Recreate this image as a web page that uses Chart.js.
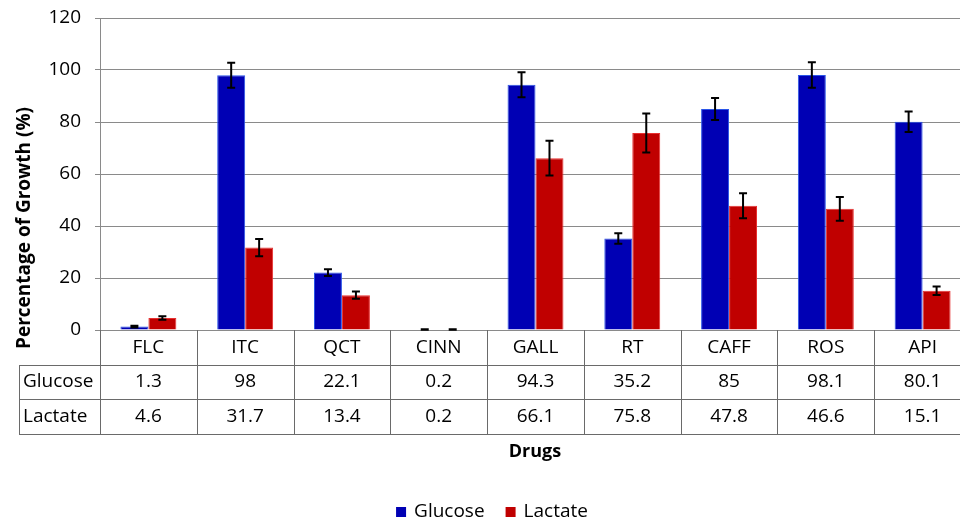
<!DOCTYPE html>
<html><head><meta charset="utf-8">
<script src="https://cdn.jsdelivr.net/npm/chart.js@4.4.0/dist/chart.umd.min.js"></script>
<style>
html,body{margin:0;padding:0;overflow:hidden;background:#fff;width:960px;height:522px}
#wrap{width:972px;height:522px;position:relative}
canvas{display:block}
</style>
</head><body><div id="wrap"><canvas id="c" width="972" height="522"></canvas></div>
<script>
const categories = ['FLC','ITC','QCT','CINN','GALL','RT','CAFF','ROS','API'];
const glucose = [1.3, 98, 22.1, 0.2, 94.3, 35.2, 85, 98.1, 80.1];
const lactate = [4.6, 31.7, 13.4, 0.2, 66.1, 75.8, 47.8, 46.6, 15.1];
const glucoseErr = [0.3, 4.8, 1.3, 0.1, 4.8, 2.0, 4.2, 4.9, 3.9];
const lactateErr = [0.7, 3.3, 1.4, 0.1, 6.7, 7.5, 4.8, 4.6, 1.6];
const seriesNames = ['Glucose', 'Lactate'];
const yMin = 0, yMax = 120, yStep = 20;
const yTitle = 'Percentage of Growth (%)';
const xTitle = 'Drugs';

const FONT = "'Open Sans', sans-serif";
const BLUE = '#0000B4', RED = '#C00000';
const LINE = '#6a6a6a';

const extras = {
  id: 'extras',
  afterDatasetsDraw(chart) {
    const ctx = chart.ctx;
    const ys = chart.scales.y;
    const errs = [glucoseErr, lactateErr];
    const vals = [glucose, lactate];
    ctx.save();
    ctx.strokeStyle = '#000';
    ctx.lineWidth = 2;
    chart.data.datasets.forEach((ds, d) => {
      const meta = chart.getDatasetMeta(d);
      meta.data.forEach((bar, i) => {
        const v = vals[d][i], e = errs[d][i];
        const yt = ys.getPixelForValue(v + e), yb = ys.getPixelForValue(v - e);
        const x = bar.x;
        ctx.beginPath();
        ctx.moveTo(x, yt); ctx.lineTo(x, yb);
        ctx.moveTo(x - 4, yt); ctx.lineTo(x + 4, yt);
        ctx.moveTo(x - 4, yb); ctx.lineTo(x + 4, yb);
        ctx.stroke();
      });
    });
    ctx.restore();
  },
  afterDraw(chart) {
    const ctx = chart.ctx;
    const xs = chart.scales.x;
    const area = chart.chartArea;
    const n = categories.length;
    const cw = (area.right - area.left) / n;
    const top = area.bottom;
    const rowH = 34.7;
    const r1 = top + rowH, r2 = top + 2 * rowH, r3 = top + 3 * rowH;
    const labelLeft = 19;
    ctx.save();
    ctx.strokeStyle = LINE;
    ctx.lineWidth = 1;
    ctx.beginPath();
    for (let i = 0; i <= n; i++) {
      const x = Math.round(area.left + i * cw) + 0.5;
      ctx.moveTo(x, top); ctx.lineTo(x, r3);
    }
    [r1, r2, r3].forEach(y => { const yy = Math.round(y) + 0.5; ctx.moveTo(labelLeft, yy); ctx.lineTo(area.right + 2, yy); });
    ctx.moveTo(labelLeft + 0.5, Math.round(r1)); ctx.lineTo(labelLeft + 0.5, Math.round(r3) + 1);
    ctx.stroke();

    ctx.fillStyle = '#000';
    ctx.font = '500 19px ' + FONT;
    ctx.textAlign = 'center';
    ctx.textBaseline = 'middle';
    categories.forEach((c, i) => {
      const x = xs.getPixelForValue(i);
      ctx.fillText(c, x, top + rowH / 2);
      ctx.fillText(String(glucose[i]), x, r1 + rowH / 2);
      ctx.fillText(String(lactate[i]), x, r2 + rowH / 2);
    });
    ctx.textAlign = 'left';
    ctx.fillText(seriesNames[0], 23, r1 + rowH / 2);
    ctx.fillText(seriesNames[1], 23, r2 + rowH / 2);

    // x title
    ctx.font = 'bold 18px ' + FONT;
    ctx.textAlign = 'center';
    ctx.fillText(xTitle, 535, 452);

    // y title
    ctx.save();
    ctx.translate(25, 228);
    ctx.rotate(-Math.PI / 2);
    ctx.font = 'bold 19px ' + FONT;
    ctx.fillText(yTitle, 0, 0);
    ctx.restore();

    // legend
    ctx.font = '500 19px ' + FONT;
    ctx.textAlign = 'left';
    const ly = 512;
    const items = chart.data.datasets.map(ds => ({text: ds.label, color: ds.backgroundColor}));
    const widths = items.map(it => 10 + 8 + ctx.measureText(it.text).width);
    const gap = 21;
    const total = widths.reduce((a, b) => a + b, 0) + gap * (items.length - 1);
    let x = 492 - total / 2;
    items.forEach((it, k) => {
      ctx.fillStyle = it.color;
      ctx.fillRect(x, ly - 5, 10, 10);
      ctx.fillStyle = '#000';
      ctx.fillText(it.text, x + 18, ly);
      x += widths[k] + gap;
    });
    ctx.restore();
  }
};

new Chart(document.getElementById('c'), {
  type: 'bar',
  data: {
    labels: categories,
    datasets: [
      { label: seriesNames[0], data: glucose, backgroundColor: BLUE, borderColor: '#2a55e8', borderWidth: {left:1,right:1,top:1,bottom:0} },
      { label: seriesNames[1], data: lactate, backgroundColor: RED, borderColor: '#e83030', borderWidth: {left:1,right:1,top:1,bottom:0} }
    ]
  },
  options: {
    responsive: false,
    animation: false,
    layout: { padding: { top: 18, right: 1, left: 0, bottom: 0 } },
    datasets: { bar: { categoryPercentage: 0.578, barPercentage: 1.0 } },
    plugins: { legend: { display: false }, tooltip: { enabled: false } },
    scales: {
      x: {
        display: true,
        ticks: { display: false },
        grid: { display: false },
        border: { display: false },
        afterFit: s => { s.height = s.chart.height - 330; }
      },
      y: {
        min: yMin, max: yMax,
        ticks: { stepSize: yStep, padding: 14, color: '#000', font: { family: FONT, size: 19, weight: '500' } },
        grid: { color: '#8a8a8a', lineWidth: 1, tickLength: 5 },
        border: { display: true, color: '#8a8a8a' },
        afterFit: s => { s.width = 100; s.paddingTop = 0; s.paddingBottom = 0; }
      }
    }
  },
  plugins: [extras]
});
</script>
</body></html>
